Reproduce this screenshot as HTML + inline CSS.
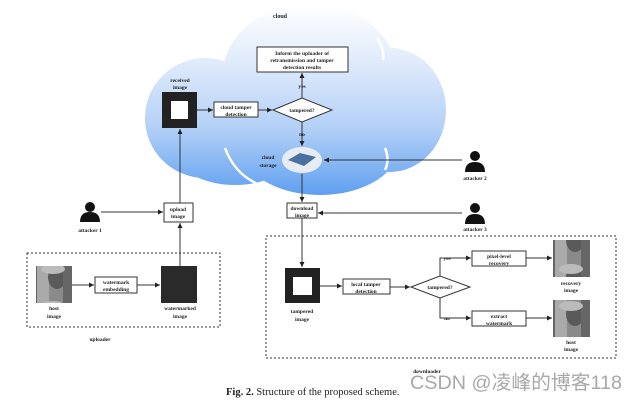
<!DOCTYPE html>
<html><head><meta charset="utf-8"><style>
html,body{margin:0;padding:0;background:#fff;}
svg text{font-family:"Liberation Serif",serif;font-weight:bold;fill:#222;}
</style></head><body>
<svg width="633" height="401" viewBox="0 0 633 401" xmlns="http://www.w3.org/2000/svg">
<defs>
<linearGradient id="cg" gradientUnits="userSpaceOnUse" x1="0" y1="5" x2="0" y2="195">
<stop offset="0" stop-color="#ffffff"/><stop offset="0.3" stop-color="#e0ebfb"/><stop offset="0.65" stop-color="#b3d0f7"/><stop offset="1" stop-color="#5f9ff0"/>
</linearGradient>
<marker id="a" markerWidth="6" markerHeight="6" refX="5" refY="3" orient="auto"><path d="M0,0.5 L5,3 L0,5.5z" fill="#222"/></marker>
<pattern id="lena" width="37" height="37" patternUnits="userSpaceOnUse"><rect width="37" height="37" fill="#8a8a8a"/><rect x="0" y="0" width="12" height="37" fill="#aaa"/><ellipse cx="20" cy="18" rx="9" ry="12" fill="#5a5a5a"/><rect x="26" y="0" width="11" height="37" fill="#666"/><ellipse cx="16" cy="10" rx="12" ry="5" fill="#bbb"/></pattern>
</defs>
<g fill="url(#cg)">
<ellipse cx="205" cy="118" rx="60" ry="60"/>
<ellipse cx="310" cy="78" rx="88" ry="75"/>
<ellipse cx="390" cy="110" rx="56" ry="62"/>
<ellipse cx="320" cy="145" rx="80" ry="50"/>
<ellipse cx="235" cy="150" rx="60" ry="35"/>
</g>
<g fill="none" stroke="#fff" stroke-width="2.5">
<path d="M148,85 Q160,70 175,62"/>
<path d="M225,30 Q235,22 245,25"/>
<path d="M377,38 Q385,50 383,60"/>
<path d="M225,148 Q235,175 260,185"/>
<path d="M385,148 Q390,160 385,170"/>
</g>
<text x="280" y="18" font-size="6" text-anchor="middle">cloud</text>
<g fill="#fff" stroke="#333" stroke-width="1">
<rect x="257" y="47" width="91" height="25"/>
<rect x="214" y="102" width="44" height="15"/>
<rect x="164" y="203" width="29" height="19"/>
<rect x="287" y="203" width="30" height="15"/>
<rect x="95" y="277" width="42" height="16"/>
<rect x="343" y="279" width="47" height="15"/>
<rect x="472" y="251" width="54" height="15"/>
<rect x="472" y="311" width="54" height="15"/>
<polygon points="273,110 302,98 332,110 302,122"/>
<polygon points="411,287 440,276 470,287 440,298"/>
</g>
<g font-size="5.5" text-anchor="middle">
<text x="302" y="55">Inform the uploader of</text>
<text x="302" y="62">retransmission and tamper</text>
<text x="302" y="69">detection results</text>
<text x="236" y="109">cloud tamper</text><text x="236" y="116">detection</text>
<text x="302" y="112">tampered?</text>
<text x="302" y="88">yes</text><text x="302" y="136">no</text>
<text x="180" y="82">received</text><text x="180" y="89">image</text>
<text x="268" y="159">cloud</text><text x="268" y="167">storage</text>
<text x="178" y="211">upload</text><text x="178" y="218">image</text>
<text x="302" y="210">download</text><text x="302" y="217">image</text>
<text x="90" y="232">attacker 1</text>
<text x="475" y="180">attacker 2</text>
<text x="475" y="231">attacker 3</text>
<text x="116" y="284">watermark</text><text x="116" y="291">embedding</text>
<text x="54" y="310">host</text><text x="54" y="318">image</text>
<text x="180" y="310">watermarked</text><text x="180" y="318">image</text>
<text x="100" y="341">uploader</text>
<text x="302" y="313">tampered</text><text x="302" y="321">image</text>
<text x="366" y="286">local tamper</text><text x="366" y="293">detection</text>
<text x="440" y="289">tampered?</text>
<text x="447" y="260">yes</text><text x="447" y="320">no</text>
<text x="499" y="258">pixel-level</text><text x="499" y="265">recovery</text>
<text x="499" y="318">extract</text><text x="499" y="325">watermark</text>
<text x="571" y="285">recovery</text><text x="571" y="292">image</text>
<text x="571" y="344">host</text><text x="571" y="351">image</text>
<text x="427" y="373">downloader</text>
</g>
<rect x="162" y="92" width="35" height="36" fill="#222"/><rect x="171" y="101" width="17" height="18" fill="#fff"/>
<rect x="285" y="268" width="35" height="35" fill="#222"/><rect x="293" y="277" width="19" height="18" fill="#fff"/>
<rect x="161" y="266" width="36" height="37" fill="#2a2a2a"/>
<rect x="36" y="266" width="36" height="37" fill="url(#lena)"/>
<rect x="553" y="240" width="37" height="37" fill="url(#lena)"/>
<rect x="553" y="300" width="37" height="37" fill="url(#lena)"/>
<ellipse cx="302" cy="160" rx="20" ry="13" fill="#e6ecf2"/>
<polygon points="288,160 300,153 316,157 304,166" fill="#4a6fa0"/>
<g fill="#111">
<circle cx="90" cy="207" r="5"/><path d="M80,222 Q80,212 90,212 Q100,212 100,222z"/>
<circle cx="475" cy="156" r="5"/><path d="M465,172 Q465,162 475,162 Q485,162 485,172z"/>
<circle cx="475" cy="208" r="5"/><path d="M465,224 Q465,214 475,214 Q485,214 485,224z"/>
</g>
<g stroke="#333" stroke-width="1" fill="none" marker-end="url(#a)">
<line x1="197" y1="110" x2="213" y2="110"/>
<line x1="258" y1="110" x2="272" y2="110"/>
<line x1="302" y1="98" x2="302" y2="73"/>
<line x1="302" y1="122" x2="302" y2="146"/>
<line x1="462" y1="160" x2="324" y2="160"/>
<line x1="302" y1="174" x2="302" y2="202"/>
<line x1="462" y1="213" x2="318" y2="213"/>
<line x1="302" y1="218" x2="302" y2="267"/>
<line x1="101" y1="212" x2="163" y2="212"/>
<line x1="180" y1="266" x2="180" y2="223"/>
<line x1="180" y1="203" x2="180" y2="129"/>
<line x1="72" y1="285" x2="94" y2="285"/>
<line x1="137" y1="285" x2="160" y2="285"/>
<line x1="320" y1="286" x2="342" y2="286"/>
<line x1="390" y1="287" x2="410" y2="287"/>
<polyline points="440,276 440,258 471,258"/>
<polyline points="440,298 440,318 471,318"/>
<line x1="526" y1="258" x2="552" y2="258"/>
<line x1="526" y1="318" x2="552" y2="318"/>
</g>
<rect x="27" y="253" width="193" height="74" fill="none" stroke="#333" stroke-width="1" stroke-dasharray="2,2"/>
<rect x="266" y="236" width="350" height="122" fill="none" stroke="#333" stroke-width="1" stroke-dasharray="2,2"/>
<text x="226" y="395" font-size="10.5" font-weight="normal"><tspan font-weight="bold">Fig. 2.</tspan><tspan font-weight="normal"> Structure of the proposed scheme.</tspan></text>
<text x="410" y="389" font-size="19.5" textLength="212" lengthAdjust="spacingAndGlyphs" style="font-family:'Liberation Sans','Noto Sans CJK SC',sans-serif;font-weight:normal;fill:#999;opacity:0.85">CSDN @凌峰的博客118</text>
</svg>
</body></html>
